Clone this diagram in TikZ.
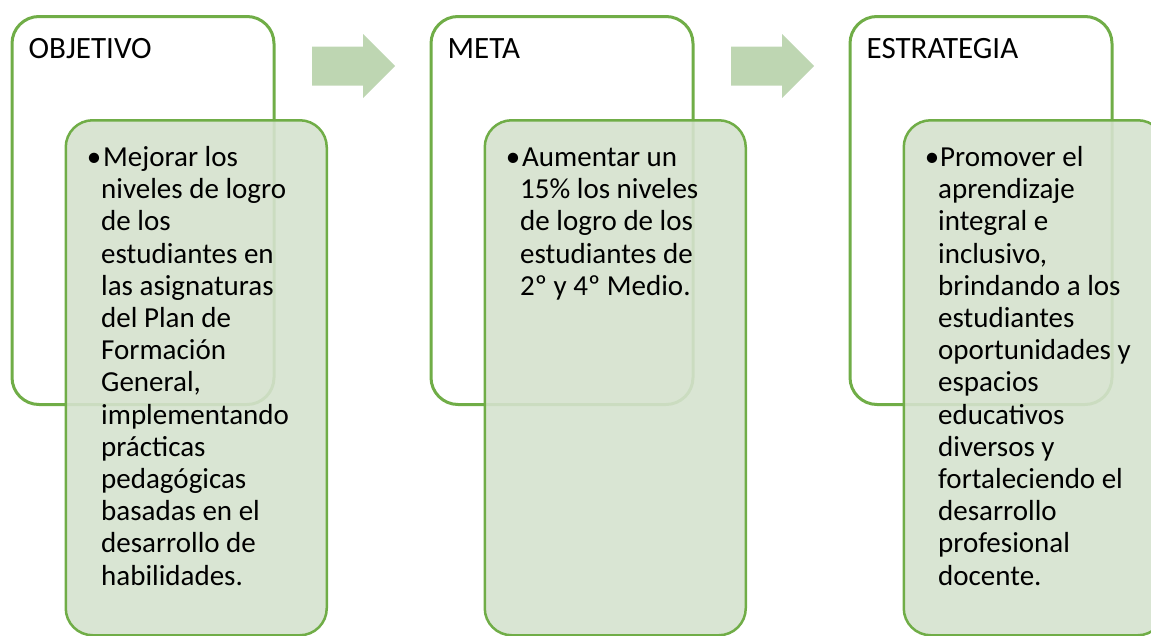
\documentclass[tikz,border=0pt]{standalone}
\usepackage{fontspec}
\setmainfont{Carlito}
\definecolor{gline}{RGB}{112,173,71}
\definecolor{gfill}{RGB}{213,226,206}
\definecolor{garrow}{RGB}{190,214,178}
\begin{document}
\begin{tikzpicture}[x=1pt,y=-1pt,
 outerbox/.style={draw=gline,line width=3pt,rounded corners=27pt,fill=white,
   minimum width=262pt,minimum height=388pt,anchor=north west,inner sep=0pt},
 innerbox/.style={draw=gline,line width=2.5pt,rounded corners=27pt,fill=gfill,fill opacity=0.9,
   minimum width=261pt,minimum height=515pt,anchor=north west,inner sep=0pt},
 flowarrow/.style={fill=garrow,draw=none},
 titletext/.style={font=\fontsize{31}{37}\selectfont,anchor=base west,inner sep=0pt},
 bodytext/.style={font=\fontsize{29}{32.2}\selectfont,anchor=base west,inner sep=0pt},
 bullettext/.style={font=\fontsize{29}{32.2}\selectfont,anchor=base east,inner sep=0pt}]
\useasboundingbox (0,0) rectangle (1151,635);
\clip (0,0) rectangle (1151,635);
% block offsets 0, 419, 838
\foreach \k/\dx in {1/0,2/419,3/838}{
  \node[outerbox] (o\k) at (10.5+\dx,15) {};
  \node[innerbox] (i\k) at (64.5+\dx,119) {};
  \node[bullettext] (bul\k) at (101.5+\dx,166.4) {•};
}
\node[titletext] (t1) at (28.5,58.5) {OBJETIVO};
\node[titletext] (t2) at (447.5,58.5) {META};
\node[titletext] (t3) at (866.5,58.5) {ESTRATEGIA};
% arrows
\foreach \k/\dx in {1/0,2/419}{
  \fill[garrow] (312+\dx,46.5) -- (363+\dx,46.5) -- (363+\dx,34) -- (395+\dx,66)
    -- (363+\dx,98) -- (363+\dx,85.5) -- (312+\dx,85.5) -- cycle;
}
\foreach \l [count=\i] in {niveles de logro,de los,estudiantes en,las asignaturas,del Plan de,Formación,{General,},implementando,prácticas,pedagógicas,basadas en el,desarrollo de,habilidades.}{
  \node[bodytext] (a\i) at (101,166.4+32.2*\i) {\l};
}
\node[bodytext] (a0) at (103,166.4) {Mejorar los};
\foreach \l [count=\i] in {15\% los niveles,de logro de los,estudiantes de,2º y 4º Medio.}{
  \node[bodytext] (b\i) at (520,166.4+32.2*\i) {\l};
}
\node[bodytext] (b0) at (522,166.4) {Aumentar un};
\foreach \l [count=\i] in {aprendizaje,integral e,{inclusivo,},brindando a los,estudiantes,oportunidades y,espacios,educativos,diversos y,fortaleciendo el,desarrollo,profesional,docente.}{
  \node[bodytext] (c\i) at (938,166.4+32.2*\i) {\l};
}
\node[bodytext] (c0) at (940,166.4) {Promover el};
\end{tikzpicture}
\end{document}
